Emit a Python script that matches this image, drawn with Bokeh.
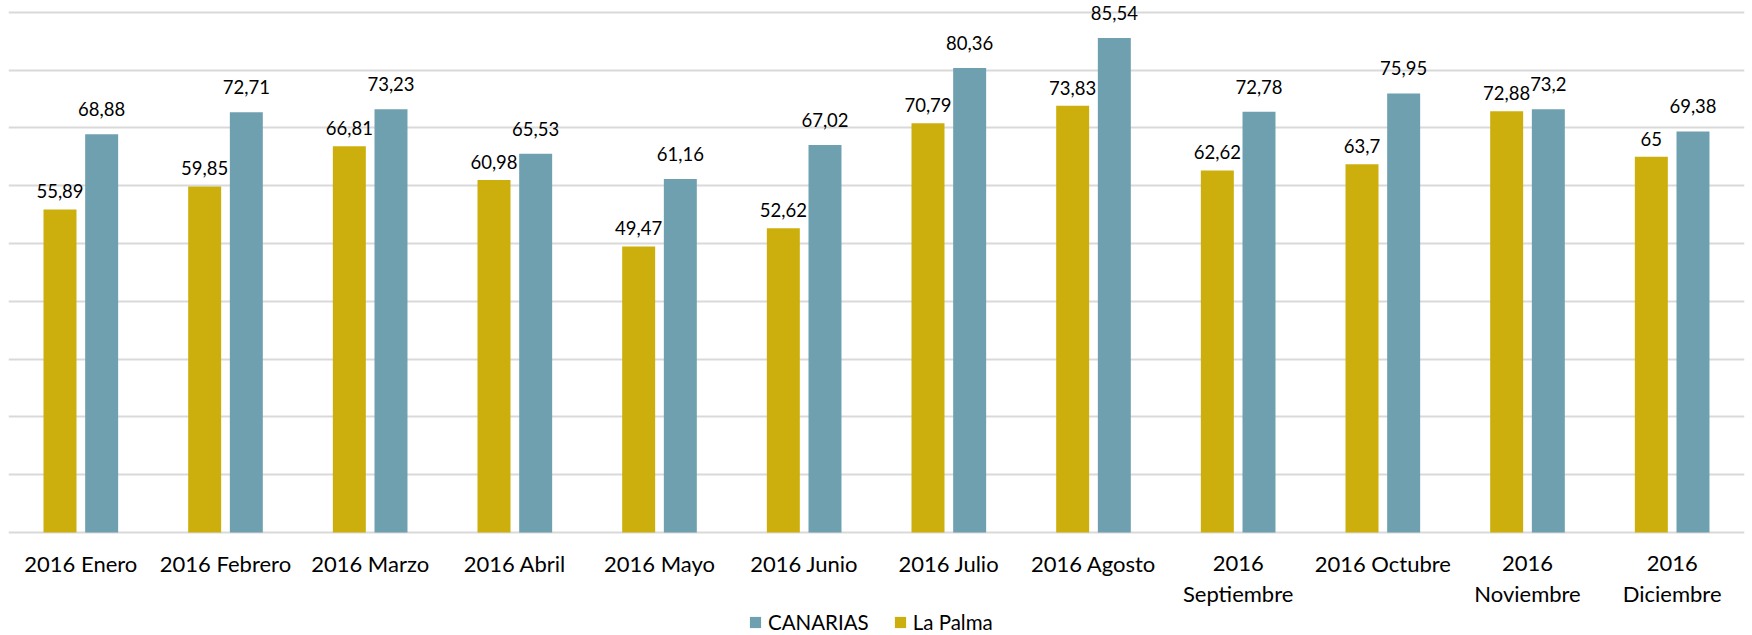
from bokeh.plotting import figure
from bokeh.models import ColumnDataSource, FactorRange, Range1d, Legend, LegendItem, FixedTicker, LabelSet
from bokeh.core.properties import value
from bokeh.transform import dodge
from bokeh.embed import file_html
from bokeh.resources import INLINE

months = ["2016 Enero", "2016 Febrero", "2016 Marzo", "2016 Abril", "2016 Mayo", "2016 Junio",
          "2016 Julio", "2016 Agosto", "2016 Septiembre", "2016 Octubre", "2016 Noviembre", "2016 Diciembre"]
canarias = [68.88, 72.71, 73.23, 65.53, 61.16, 67.02, 80.36, 85.54, 72.78, 75.95, 73.2, 69.38]
la_palma = [55.89, 59.85, 66.81, 60.98, 49.47, 52.62, 70.79, 73.83, 62.62, 63.7, 72.88, 65]
wrapped = ["2016 Septiembre", "2016 Noviembre", "2016 Diciembre"]

def fmt(v):
    return f"{v:g}".replace(".", ",")

line1 = [m.split(" ")[0] if m in wrapped else m for m in months]
line2 = [m.split(" ", 1)[1] if m in wrapped else "" for m in months]

src = ColumnDataSource(dict(
    month=months, can=canarias, lp=la_palma, zero=[0] * len(months),
    line1=line1, line2=line2,
    can_lbl=[fmt(v) for v in canarias], lp_lbl=[fmt(v) for v in la_palma]))

YEL = "#CCAF0C"
BLU = "#6FA0B0"
FONT = "Lato"

PX = 520 / 90.0  # pixels per unit
p = figure(x_range=FactorRange(*months, range_padding=0),
           y_range=Range1d(-103 / PX, 90 + 11.7 / PX),
           width=1752, height=635, output_backend="svg", toolbar_location=None,
           min_border_left=8, min_border_right=8, min_border_top=0, min_border_bottom=0)
p.outline_line_color = None

p.yaxis.visible = False
p.xaxis.visible = False
p.xgrid.visible = False
p.ygrid.ticker = FixedTicker(ticks=list(range(0, 91, 10)))
p.ygrid.grid_line_color = "#d9d9d9"
p.ygrid.grid_line_width = 2

r_lp = p.vbar(x=dodge("month", -0.144, range=p.x_range), top="lp", width=0.228, source=src,
              fill_color=YEL, line_color=None)
r_can = p.vbar(x=dodge("month", 0.144, range=p.x_range), top="can", width=0.228, source=src,
               fill_color=BLU, line_color=None)

for col, lbl, off, yoff in (("lp", "lp_lbl", -0.144, 11), ("can", "can_lbl", 0.144, 18)):
    p.add_layout(LabelSet(x=dodge("month", off, range=p.x_range), y=col, text=lbl, source=src,
                          text_align="center", text_baseline="bottom", y_offset=yoff,
                          text_font=value(FONT), text_font_size="18.5px", text_color="black"))

for col, yoff in (("line1", -31), ("line2", -61)):
    p.add_layout(LabelSet(x="month", y="zero", text=col, source=src, y_offset=yoff,
                          text_align="center", text_baseline="middle",
                          text_font=value(FONT), text_font_size="22px", text_color="black"))

legend = Legend(items=[LegendItem(label="CANARIAS", renderers=[r_can]),
                       LegendItem(label="La Palma", renderers=[r_lp])],
                orientation="horizontal", location=(740, 1),
                label_text_font=FONT, label_text_font_size="20.5px", label_text_color="black",
                glyph_width=14, glyph_height=14, label_standoff=6, spacing=24, label_height=20,
                border_line_color=None, background_fill_alpha=0, padding=0, margin=0)
p.add_layout(legend, "center")

open("out.html", "w").write(file_html(p, INLINE))
